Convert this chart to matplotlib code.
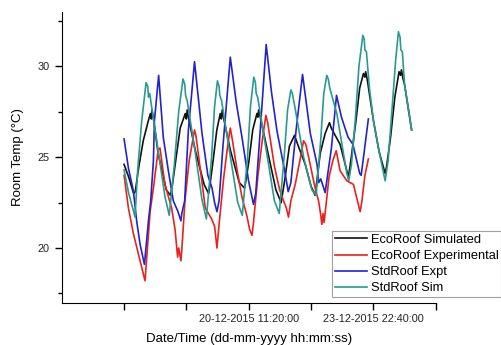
import numpy as np
import matplotlib
matplotlib.use('Agg')
import matplotlib.pyplot as plt

plt.rcParams['font.family'] = ['Liberation Sans', 'DejaVu Sans']

# hours since 17-12-2015 00:00:00, room temperature in deg C
eco_sim_t = [0.0, 3.1, 6.4, 7.5, 9.5, 12.8, 16.2, 17.6, 18.2, 18.7, 19.5, 22.8, 28.2, 31.0, 32.0,
             34.5, 37.5, 40.9, 41.6, 42.2, 43.0, 47.5, 53.5, 56.5, 57.3, 59.5, 62.0, 64.3, 65.0,
             65.6, 66.4, 71.0, 77.0, 80.5, 81.2, 83.5, 86.0, 88.8, 89.4, 90.0, 90.8, 96.0, 101.5,
             105.0, 107.5, 110.5, 113.9, 116.5, 121.1, 125.0, 127.7, 131.1, 134.4, 137.3, 138.5,
             144.4, 148.9, 150.0, 152.2, 155.0, 157.5, 160.0, 161.0, 161.5, 162.5, 166.7, 170.5,
             174.5, 175.5, 178.0, 181.0, 183.8, 184.8, 185.4, 186.5, 187.5, 192.2]
eco_sim = [24.6, 23.9, 23.0, 23.1, 24.3, 25.9, 27.0, 27.4, 27.1, 27.6, 27.2, 25.2, 23.2, 22.9, 23.3,
           24.8, 26.6, 27.4, 27.1, 27.6, 27.2, 25.4, 23.5, 23.0, 23.4, 24.8, 26.5, 27.4, 27.1,
           27.6, 27.2, 25.4, 23.6, 23.3, 23.6, 24.8, 26.5, 27.4, 27.2, 27.6, 27.3, 25.3, 23.2,
           22.5, 23.8, 25.6, 26.2, 25.6, 24.6, 23.4, 22.9, 25.2, 26.3, 26.9, 26.6,
           25.7, 24.25, 23.9, 25.2, 27.0, 28.8, 29.6, 29.4, 29.7, 29.3, 27.0, 25.3,
           24.1, 24.5, 26.0, 28.3, 29.7, 29.5, 29.8, 29.3, 29.0, 26.5]

eco_exp_t = [0.0, 2.9, 6.2, 9.5, 14.0, 17.4, 19.6, 22.8, 24.0, 27.3, 31.8, 34.1, 35.8, 36.5, 38.0,
             38.5, 40.7, 43.5, 47.1, 48.0, 51.0, 54.3, 58.5, 60.5, 62.1, 63.5, 66.5, 69.5, 71.0,
             72.3, 75.5, 78.8, 82.0, 84.0, 85.5, 86.5, 89.5, 92.5, 94.8, 96.0, 100.5, 104.0, 106.6,
             108.5, 109.9, 111.5, 114.4, 117.5, 120.0, 121.5, 124.4, 127.7, 130.0, 131.5, 132.2,
             133.0, 133.7, 134.5, 137.0, 139.5, 141.8, 144.4, 148.9, 153.3, 156.6, 157.8, 159.0,
             161.0, 163.3]
eco_exp = [24.0, 22.2, 20.8, 19.7, 18.2, 22.0, 23.3, 25.4, 25.5, 23.5, 22.2, 21.0, 19.5, 20.0, 19.3,
           19.8, 22.6, 24.8, 26.5, 26.2, 24.3, 22.2, 21.6, 21.2, 20.0, 21.3, 23.8, 25.8, 26.6,
           26.0, 24.3, 22.8, 21.8, 21.0, 20.7, 21.4, 24.0, 26.0, 27.3, 26.9, 24.5, 23.2, 22.6,
           22.2, 21.7, 22.6, 23.5, 24.8, 25.9, 25.7, 24.6, 23.3, 22.6, 21.8, 21.3,
           21.9, 21.4, 22.0, 23.9, 24.8, 25.35, 24.25, 23.7, 23.5, 22.4, 22.0, 22.6,
           24.0, 24.9]

std_exp_t = [0.0, 2.9, 6.2, 8.4, 10.7, 13.6, 16.3, 17.8, 19.6, 20.3, 23.1, 26.2, 29.6, 32.9, 35.8,
             38.0, 38.6, 40.5, 43.0, 47.1, 52.1, 56.0, 58.8, 60.5, 62.1, 63.5, 66.0, 71.0, 75.0,
             78.8, 83.2, 86.5, 88.0, 91.0, 95.0, 98.5, 102.2, 107.7, 109.7, 111.5, 115.0, 119.3,
             124.5, 129.0, 130.1, 131.5, 134.4, 138.6, 142.0, 145.3, 149.7, 153.0, 157.5, 158.5,
             163.3]
std_exp = [26.0, 24.4, 23.15, 21.5, 20.2, 19.1, 21.5, 22.6, 24.8, 27.0, 29.5, 26.1, 24.25, 22.6, 22.05,
           21.5, 21.9, 22.6, 26.5, 30.25, 26.3, 24.0, 23.3, 22.5, 22.0, 22.6, 25.5, 30.5, 28.0,
           26.1, 23.7, 22.4, 23.0, 26.45, 31.2, 28.6, 26.45, 24.1, 23.1, 23.6, 26.5, 29.55,
           26.3, 24.6, 23.6, 23.8, 23.05, 25.5, 28.4, 27.2, 26.1, 25.7, 24.1, 24.0,
           27.1]

std_sim_t = [0.0, 3.1, 6.4, 7.3, 9.1, 11.8, 14.7, 15.8, 16.3, 17.2, 18.0, 21.8, 27.4, 30.2, 33.5,
             36.5, 39.4, 40.6, 41.1, 42.2, 47.5, 52.0, 55.0, 58.5, 60.5, 62.4, 63.5, 64.0, 65.2,
             70.5, 76.0, 79.0, 82.5, 84.5, 86.7, 87.8, 88.3, 89.3, 95.0, 100.5, 103.7, 107.0, 109.3,
             111.5, 112.5, 114.3, 120.0, 125.5, 128.4, 131.5, 133.5, 135.5, 136.5, 137.5, 142.2,
             148.9, 150.2, 152.0, 154.5, 157.0, 159.6, 160.5, 161.0, 162.0, 164.0, 166.7, 170.5,
             174.5, 176.5, 179.0, 181.5, 183.4, 184.5, 185.0, 186.0, 187.5, 192.2]
std_sim = [24.3, 23.0, 22.0, 21.7, 24.3, 27.0, 29.1, 28.9, 28.3, 28.5, 28.0, 25.9, 22.8, 21.8, 24.5,
           27.5, 29.3, 29.0, 28.4, 28.1, 25.3, 22.7, 21.6, 25.0, 27.8, 29.2, 28.9, 28.4, 28.1,
           25.3, 22.5, 21.8, 25.0, 27.8, 29.4, 29.1, 28.5, 28.3, 25.4, 22.6, 21.9, 25.0, 27.6,
           28.7, 28.5, 27.7, 25.0, 23.2, 22.9, 26.0, 28.5, 29.5, 29.3, 28.8, 27.4,
           24.1, 23.7, 24.6, 27.0, 30.0, 31.7, 31.5, 30.9, 30.8, 28.8, 27.0, 25.3,
           23.7, 24.8, 27.5, 30.3, 31.9, 31.6, 30.9, 30.8, 29.0, 26.5]

tick_hours = [0, 41.667, 83.333, 125.0, 166.667, 208.333]
tick_labels = ['', '', '20-12-2015 11:20:00', '', '23-12-2015 22:40:00', '']

fig = plt.figure(figsize=(5.02, 3.45), dpi=100)
ax = fig.add_axes([0.123, 0.123, 0.745, 0.843])

ax.plot(eco_sim_t, eco_sim, color='#111111', lw=1.2, label='EcoRoof Simulated')
ax.plot(eco_exp_t, eco_exp, color='#e8231f', lw=1.2, label='EcoRoof Experimental')
ax.plot(std_exp_t, std_exp, color='#2323cc', lw=1.2, label='StdRoof Expt')
ax.plot(std_sim_t, std_sim, color='#2a9a90', lw=1.2, label='StdRoof Sim')

ax.set_xlim(-41.667, 208.333)
ax.set_ylim(17, 33)
ax.set_xticks(tick_hours)
ax.set_xticklabels(tick_labels)
ax.set_yticks([20, 25, 30])
ax.set_yticks([17.5, 22.5, 27.5, 32.5], minor=True)
ax.tick_params(axis='both', which='major', direction='out', length=5, width=1, labelsize=7.8,
               labelcolor='#222222')
ax.tick_params(axis='y', which='minor', direction='out', length=3, width=1)
for s in ['top', 'right']:
    ax.spines[s].set_visible(False)

ax.set_xlabel('Date/Time (dd-mm-yyyy hh:mm:ss)', fontsize=9.5, labelpad=6)
ax.set_ylabel('Room Temp (°C)', fontsize=9.5, labelpad=10)

leg = ax.legend(loc='lower right', bbox_to_anchor=(0.999, 0.139), bbox_transform=fig.transFigure,
                fontsize=9.3, frameon=True, fancybox=False, edgecolor='#888888', handlelength=2.5,
                handletextpad=0.3, labelspacing=0.32, borderpad=0.2, borderaxespad=0)
leg.get_frame().set_linewidth(0.8)

fig.savefig('out.png', dpi=100)
